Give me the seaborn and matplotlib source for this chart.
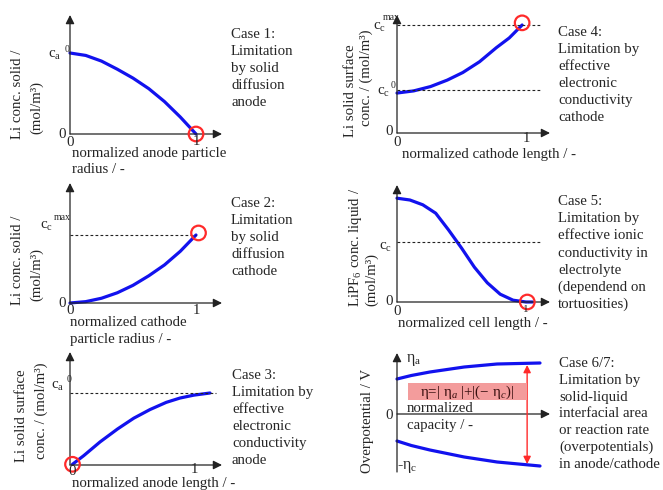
import matplotlib
matplotlib.use("Agg")
import matplotlib.pyplot as plt
import seaborn as sns
from matplotlib.patches import Rectangle

# ---------------- data ----------------
p1_x = [0, 0.125, 0.25, 0.375, 0.5, 0.625, 0.75, 0.875, 1.0]
p1_y = [1.0, 0.97, 0.90, 0.80, 0.69, 0.56, 0.40, 0.21, 0.0]

p2_x = [0, 0.125, 0.25, 0.375, 0.5, 0.625, 0.75, 0.875, 1.0]
p2_y = [0, 0.02, 0.07, 0.15, 0.26, 0.40, 0.56, 0.76, 1.0]

p3_x = [0.02, 0.11, 0.24, 0.38, 0.51, 0.64, 0.77, 0.88, 0.99, 1.12]
p3_y = [0.01, 0.13, 0.32, 0.50, 0.65, 0.77, 0.87, 0.93, 0.97, 1.0]

p4_x = [0, 0.13, 0.26, 0.39, 0.51, 0.64, 0.77, 0.87, 0.97]
p4_y = [0.37, 0.39, 0.43, 0.49, 0.56, 0.66, 0.79, 0.88, 1.0]

p5_x = [0, 0.1, 0.2, 0.3, 0.4, 0.5, 0.6, 0.7, 0.8, 0.9, 1.0, 1.05]
p5_y = [1.73, 1.70, 1.62, 1.48, 1.20, 0.90, 0.58, 0.32, 0.13, 0.03, 0.0, 0.0]

p6_x = [0, 0.1, 0.23, 0.47, 0.70, 1.0]
p6_upper = [0.70, 0.77, 0.84, 0.94, 1.0, 1.02]
p6_lower = [-0.54, -0.63, -0.72, -0.86, -0.96, -1.04]

case_texts = {
    1: ["Case 1:", "Limitation", "by solid", "diffusion", "anode"],
    2: ["Case 2:", "Limitation", "by solid", "diffusion", "cathode"],
    3: ["Case 3:", "Limitation by", "effective", "electronic", "conductivity", "anode"],
    4: ["Case 4:", "Limitation by", "effective", "electronic", "conductivity", "cathode"],
    5: ["Case 5:", "Limitation by", "effective ionic", "conductivity in", "electrolyte",
        "(dependend on", "tortuosities)"],
    6: ["Case 6/7:", "Limitation by", "solid-liquid", "interfacial area", "or reaction rate",
        "(overpotentials)", "in anode/cathode"],
}

# ---------------- style ----------------
sns.set_theme(style="white")
plt.rcParams["font.family"] = ["Liberation Serif", "DejaVu Serif"]
plt.rcParams["mathtext.fontset"] = "custom"
plt.rcParams["mathtext.rm"] = "Liberation Serif"
plt.rcParams["mathtext.it"] = "Liberation Serif:italic"

W, H = 663, 490
FS = 10.7
BLUE = "#1212ee"
RED = "#ff2a2a"

fig = plt.figure(figsize=(W / 100, H / 100), dpi=100)
fig.patch.set_facecolor("white")


def T(x, y, s, ha="left", va="baseline", rot=0, size=FS, **kw):
    fig.text(x / W, 1 - y / H, s, ha=ha, va=va, rotation=rot, fontsize=size, **kw)


def case(x, y0, lines, step=17.0):
    for i, s in enumerate(lines):
        T(x, y0 + step * i + 5, s)


def make_ax(ox, oy, x1, xend, ytop, yunit, ybot=None):
    xu = x1 - ox
    if ybot is None:
        ybot = oy
    ax = fig.add_axes([ox / W, 1 - ybot / H, (xend - ox) / W, (ybot - ytop) / H])
    ax.set_xlim(0, (xend - ox) / xu)
    ax.set_ylim(-(ybot - oy) / yunit, (oy - ytop) / yunit)
    ax.axis("off")
    xmax = (xend - ox) / xu
    ymax = (oy - ytop) / yunit
    ymin = -(ybot - oy) / yunit
    ap = dict(arrowstyle="-|>", color="#222222", lw=0.9, mutation_scale=13,
              shrinkA=0, shrinkB=0)
    ax.annotate("", xy=(xmax, 0), xytext=(0, 0), arrowprops=ap, annotation_clip=False)
    ax.annotate("", xy=(0, ymax), xytext=(0, ymin), arrowprops=ap, annotation_clip=False)
    return ax


def curve(ax, x, y):
    sns.lineplot(x=x, y=y, ax=ax, color=BLUE, lw=2.3)
    for l in ax.lines:
        l.set_clip_on(False)


def ring(ax, x, y):
    sns.scatterplot(x=[x], y=[y], ax=ax, s=110, facecolor="none",
                    edgecolor=RED, linewidth=1.6, zorder=5, clip_on=False)


def dash(ax, y, x1):
    ax.plot([0, x1], [y, y], ls=(0, (2.5, 2)), color="#222222", lw=0.8, clip_on=False)


# ---------------- Panel 1 ----------------
ax1 = make_ax(70, 134, 196, 222, 15, 81)
curve(ax1, p1_x, p1_y)
ring(ax1, 1.0, 0.0)
T(55, 58, r"c$_\mathrm{a}$", ha="center")
T(65, 52, "0", size=7)
T(66, 138, "0", ha="right")
T(70, 146, "0", ha="center")
T(196, 145, "1", ha="center")
T(72, 157, "normalized anode particle")
T(72, 173, "radius / -")
T(18, 94, "Li conc. solid /", ha="center", va="center", rot=90)
T(37, 108, "(mol/m³)", ha="center", va="center", rot=90)
case(231, 33, case_texts[1])

# ---------------- Panel 2 ----------------
ax2 = make_ax(70, 303, 196, 222, 183, 68)
curve(ax2, p2_x, p2_y)
dash(ax2, 1.0, 1.0)
ring(ax2, 1.02, 1.03)
T(46, 229, r"c$_\mathrm{c}$", ha="center")
T(54, 220, "max", size=7)
T(66, 307, "0", ha="right")
T(70, 314, "0", ha="center")
T(196, 314, "1", ha="center")
T(70, 326, "normalized cathode")
T(70, 343, "particle radius / -")
T(18, 260, "Li conc. solid /", ha="center", va="center", rot=90)
T(37, 274, "(mol/m³)", ha="center", va="center", rot=90)
case(231, 202, case_texts[2])

# ---------------- Panel 3 ----------------
ax3 = make_ax(70, 465, 195, 222, 352, 72)
curve(ax3, p3_x, p3_y)
dash(ax3, 1.0, (216 - 70) / 125)
ring(ax3, 0.02, 0.01)
T(58, 389, r"c$_\mathrm{a}$", ha="center")
T(67, 382, "0", size=7)
T(72, 475, "0", ha="center")
T(195, 473, "1", ha="center")
T(72, 487, "normalized anode length / -")
T(22, 416, "Li solid surface", ha="center", va="center", rot=90)
T(41, 411, "conc. / (mol/m³)", ha="center", va="center", rot=90)
case(232, 374, case_texts[3])

# ---------------- Panel 4 ----------------
ax4 = make_ax(397, 133, 526, 550, 15, 108)
curve(ax4, p4_x, p4_y)
dash(ax4, 1.0, (542 - 397) / 129)
dash(ax4, 0.40, (542 - 397) / 129)
ring(ax4, 0.97, 1.02)
T(379, 30, r"c$_\mathrm{c}$", ha="center")
T(383, 20, "max", size=7)
T(383, 95, r"c$_\mathrm{c}$", ha="center")
T(391, 88, "0", size=7)
T(393, 135, "0", ha="right")
T(397, 146, "0", ha="center")
T(526, 142, "1", ha="center")
T(402, 158, "normalized cathode length / -")
T(350, 91, "Li solid surface", ha="center", va="center", rot=90)
T(366, 78, "conc. / (mol/m³)", ha="center", va="center", rot=90)
case(558, 31, case_texts[4])

# ---------------- Panel 5 ----------------
ax5 = make_ax(397, 302, 526, 550, 185, 60)
curve(ax5, p5_x, p5_y)
dash(ax5, 1.0, (541 - 397) / 129)
ring(ax5, 1.01, 0.0)
T(385, 250, r"c$_\mathrm{c}$", ha="center")
T(393, 305, "0", ha="right")
T(397, 315, "0", ha="center")
T(526, 312, "1", ha="center", size=8)
T(398, 327, "normalized cell length / -")
T(355, 247, r"LiPF$_\mathrm{6}$ conc. liquid /", ha="center", va="center", rot=90)
T(372, 280, "(mol/m³)", ha="center", va="center", rot=90)
case(558, 200, case_texts[5], step=17.2)

# ---------------- Panel 6 ----------------
ax6 = make_ax(397, 414, 540, 550, 353, 50, ybot=472)
sns.lineplot(x=p6_x, y=p6_upper, ax=ax6, color=BLUE, lw=2.3)
sns.lineplot(x=p6_x, y=p6_lower, ax=ax6, color=BLUE, lw=2.3)
for l in ax6.lines:
    l.set_clip_on(False)
ax6.annotate("", xy=(0.91, 0.98), xytext=(0.91, -1.0),
             arrowprops=dict(arrowstyle="<|-|>", color=RED, lw=1.0, mutation_scale=11,
                             shrinkA=0, shrinkB=0), annotation_clip=False)
fig.patches.append(Rectangle((408 / W, 1 - 400 / H), 119 / W, 17 / H,
                             transform=fig.transFigure, facecolor="#f39c9c",
                             edgecolor="none", zorder=0.5))
T(467, 396, r"η=| η$_a$ |+|(− η$_c$)|", ha="center", color="#3a1010", size=10.8)
T(406, 362, r"η$_\mathrm{a}$", size=11.5)
T(397, 469, r"-η$_\mathrm{c}$", size=11.5)
T(393, 419, "0", ha="right")
T(407, 412, "normalized")
T(407, 429, "capacity / -")
T(368, 421, "Overpotential / V", ha="center", va="center", rot=90)
case(559, 362, case_texts[6], step=16.8)

fig.savefig("out.png", dpi=100, facecolor="white")
